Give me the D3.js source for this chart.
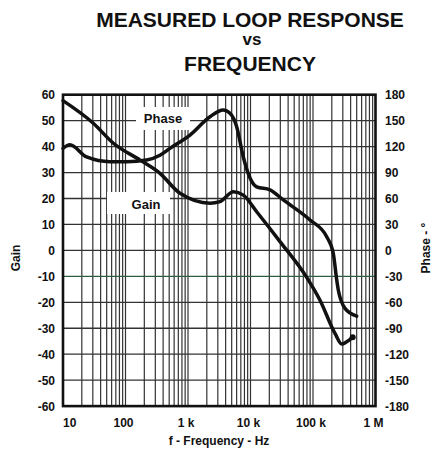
<!DOCTYPE html>
<html>
<head>
	<title>Measured Loop Response vs Frequency</title>
	<script src="https://cdnjs.cloudflare.com/ajax/libs/d3/7.8.5/d3.min.js" charset="utf-8"></script>
	<style>
		body { margin: 0; background: #fff; }
		svg text { font-family: "Liberation Sans", Arial, sans-serif; font-weight: bold; fill: #111; }
	</style>
</head>
<body>
<div id="chart"></div>

<script>
// ---- data ----
var gainFreq = [10, 30.5, 64, 171, 356, 745, 2250, 3250, 5310, 7670, 12560, 29650, 79250, 129400, 224900, 287800, 346000, 431500];
var gainDb   = [57.7, 49.0, 41.3, 34.8, 29.7, 22.0, 18.2, 18.8, 22.6, 21.3, 14.9, 3.4, -10.4, -19.2, -32.0, -36.1, -35.2, -33.5];

var phaseFreq = [10, 12.9, 23.9, 56.5, 104.5, 218, 356, 515, 1076, 2250, 3670, 4700, 6010, 7670, 9820, 12560, 20500, 33500, 89500, 165600, 211000, 239500, 254000, 325000, 500000];
var phaseDeg  = [118, 122, 108, 102.5, 102.5, 104.5, 110, 118, 133.4, 154.6, 162.3, 158.5, 143, 108, 83.7, 73.5, 70, 58.3, 35.2, 15.8, -3.3, -34, -45.8, -67, -76];

var freqTicks = [10, 100, 1e3, 1e4, 1e5, 1e6];
var freqLabels = ["10", "100", "1 k", "10 k", "100 k", "1 M"];
var gainTicks = [60, 50, 40, 30, 20, 10, 0, -10, -20, -30, -40, -50, -60];
var phaseTicks = [180, 150, 120, 90, 60, 30, 0, -30, -60, -90, -120, -150, -180];

// ---- layout ----
var width = 433, height = 449;
var plotL = 63, plotR = 375.5, plotT = 94.7, plotB = 406.1;

var svg = d3.select("#chart").append("svg")
	.attr("width", width)
	.attr("height", height);

var x = d3.scaleLog().domain([10, 1e6]).range([plotL, plotR]);
var yGain = d3.scaleLinear().domain([-60, 60]).range([plotB, plotT]);
var yPhase = d3.scaleLinear().domain([-180, 180]).range([plotB, plotT]);

// title
var title = svg.append("g").attr("text-anchor", "middle");
title.append("text").attr("x", 250).attr("y", 27).style("font-size", "21px").text("MEASURED LOOP RESPONSE");
title.append("text").attr("x", 252).attr("y", 45).style("font-size", "17px").text("vs");
title.append("text").attr("x", 250).attr("y", 71).style("font-size", "21px").text("FREQUENCY");

// grid - minor and decade verticals
var minors = [];
for (var d = 10; d < 1e6; d *= 10) {
	for (var m = 1; m < 10; m++) minors.push(d * m);
}
svg.append("g").selectAll("line").data(minors).join("line")
	.attr("x1", function(f) { return x(f); })
	.attr("x2", function(f) { return x(f); })
	.attr("y1", plotT).attr("y2", plotB)
	.attr("stroke", "#333").attr("stroke-width", 1.2);

svg.append("g").selectAll("line").data(gainTicks).join("line")
	.attr("x1", plotL).attr("x2", plotR)
	.attr("y1", function(v) { return yGain(v); })
	.attr("y2", function(v) { return yGain(v); })
	.attr("stroke", function(v) { return v === -10 ? "#2c5e45" : "#333"; })
	.attr("stroke-width", 1.3);

// labels inside plot (white boxes over the grid)
svg.append("rect").attr("x", 136).attr("y", 107).attr("width", 54).attr("height", 23).attr("fill", "#fff");
svg.append("rect").attr("x", 107).attr("y", 192).attr("width", 63).attr("height", 22).attr("fill", "#fff");
svg.append("text").attr("x", 163).attr("y", 123).attr("text-anchor", "middle").style("font-size", "13px").text("Phase");
svg.append("text").attr("x", 146).attr("y", 209).attr("text-anchor", "middle").style("font-size", "13px").text("Gain");

// curves
var gainLine = d3.line()
	.x(function(d, i) { return x(gainFreq[i]); })
	.y(function(d) { return yGain(d); })
	.curve(d3.curveMonotoneX);
var phaseLine = d3.line()
	.x(function(d, i) { return x(phaseFreq[i]); })
	.y(function(d) { return yPhase(d); })
	.curve(d3.curveMonotoneX);

svg.append("path").attr("d", gainLine(gainDb))
	.attr("fill", "none").attr("stroke", "#111").attr("stroke-width", 3.5).attr("stroke-linecap", "round");
svg.append("path").attr("d", phaseLine(phaseDeg))
	.attr("fill", "none").attr("stroke", "#111").attr("stroke-width", 3.5).attr("stroke-linecap", "round");
svg.append("circle")
	.attr("cx", x(gainFreq[gainFreq.length - 1]))
	.attr("cy", yGain(gainDb[gainDb.length - 1]))
	.attr("r", 3).attr("fill", "#111");

// frame
svg.append("rect").attr("x", plotL).attr("y", plotT).attr("width", plotR - plotL).attr("height", plotB - plotT)
	.attr("fill", "none").attr("stroke", "#111").attr("stroke-width", 2.6);

// left axis labels
svg.append("g").attr("text-anchor", "end").selectAll("text").data(gainTicks).join("text")
	.attr("x", 55).attr("y", function(v) { return yGain(v) + 4.5; })
	.style("font-size", "12px")
	.text(function(v) { return v; });

// right axis labels
svg.append("g").attr("text-anchor", "start").selectAll("text").data(phaseTicks).join("text")
	.attr("x", 385).attr("y", function(v) { return yPhase(v) + 4.5; })
	.style("font-size", "12px")
	.text(function(v) { return v; });

// bottom labels
svg.append("g").selectAll("text").data(freqTicks).join("text")
	.attr("x", function(f, i) { return i === 0 ? plotL : x(f) - 2; })
	.attr("y", 427)
	.attr("text-anchor", function(f, i) { return i === 0 ? "start" : "middle"; })
	.style("font-size", "12px")
	.text(function(f, i) { return freqLabels[i]; });

svg.append("text").attr("x", 219).attr("y", 445).attr("text-anchor", "middle")
	.style("font-size", "12px").text("f - Frequency - Hz");

// axis titles
svg.append("text").attr("transform", "translate(20,258) rotate(-90)").attr("text-anchor", "middle")
	.style("font-size", "12px").text("Gain");
svg.append("text").attr("transform", "translate(430,248) rotate(-90)").attr("text-anchor", "middle")
	.style("font-size", "12px").text("Phase - °");
</script>
</body>
</html>
